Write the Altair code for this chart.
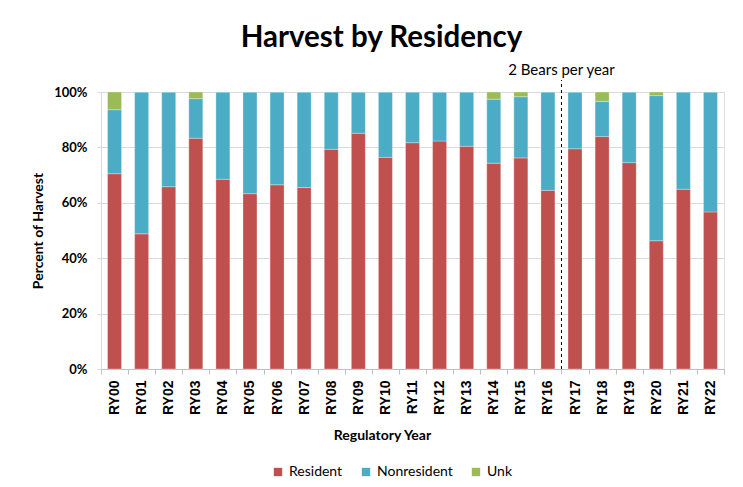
import altair as alt
import pandas as pd

years = ["RY00", "RY01", "RY02", "RY03", "RY04", "RY05", "RY06", "RY07", "RY08",
         "RY09", "RY10", "RY11", "RY12", "RY13", "RY14", "RY15", "RY16", "RY17",
         "RY18", "RY19", "RY20", "RY21", "RY22"]
resident = [70.5, 48.8, 65.8, 83.3, 68.5, 63.3, 66.5, 65.5, 79.3, 85.1, 76.4, 81.7,
            82.3, 80.4, 74.3, 76.2, 64.5, 79.5, 83.9, 74.5, 46.3, 64.9, 56.7]
nonresident = [23.1, 51.2, 34.2, 14.3, 31.5, 36.7, 33.5, 34.5, 20.7, 14.9, 23.6, 18.3,
               17.7, 19.6, 23.1, 22.1, 35.5, 20.5, 12.7, 25.5, 52.4, 35.1, 43.3]
unk = [6.4, 0, 0, 2.4, 0, 0, 0, 0, 0, 0, 0, 0,
       0, 0, 2.6, 1.7, 0, 0, 3.4, 0, 1.3, 0, 0]
series = ["Resident", "Nonresident", "Unk"]
colors = ["#C0504D", "#4BACC6", "#9BBB59"]
y_ticks = [0, 0.2, 0.4, 0.6, 0.8, 1.0]
marker_year = ["RY17"]
marker_label = ["2 Bears per year"]

rows = []
for i, yr in enumerate(years):
    for k, (name, vals) in enumerate(zip(series, [resident, nonresident, unk])):
        rows.append({"year": yr, "series": name, "order": k, "value": vals[i] / 100})
df = pd.DataFrame(rows)

mk = pd.DataFrame({"year": marker_year, "y0": [0.0], "y1": [1.043],
                   "ty": [1.08], "label": marker_label})

xscale = alt.Scale(domain=years, paddingInner=0, paddingOuter=0)

bars = alt.Chart(df).mark_bar(size=14, stroke="white", strokeWidth=0.5,
                              strokeOpacity=0.6).encode(
    x=alt.X("year:N", sort=years, scale=xscale,
            axis=alt.Axis(title="Regulatory Year", labelAngle=270, tickBand="extent",
                          grid=False, domainColor="#BFBFBF", tickColor="#BFBFBF",
                          tickSize=5, labelFont="Arial", labelFontWeight="bold",
                          labelFontSize=14, labelPadding=6, labelColor="black",
                          titleFont="Lato", titleFontWeight="bold", titleFontSize=14,
                          titlePadding=14, titleColor="black", titleX=281,
                          titleAlign="center")),
    y=alt.Y("value:Q", stack="zero", scale=alt.Scale(domain=[0, 1], nice=False),
            axis=alt.Axis(title="Percent of Harvest", format=".0%", values=y_ticks,
                          gridColor="#D9D9D9", domainColor="#D9D9D9", tickColor="#D9D9D9",
                          tickSize=4, labelPadding=10, labelFont="Lato",
                          labelFontWeight="bold", labelFontSize=13, labelColor="black",
                          titleFont="Lato", titleFontWeight="bold", titleFontSize=14,
                          titlePadding=8, titleColor="black")),
    color=alt.Color("series:N", scale=alt.Scale(domain=series, range=colors),
                    legend=alt.Legend(title=None, orient="none", direction="horizontal",
                                      legendX=170, legendY=373, symbolType="square",
                                      symbolSize=70, symbolStrokeWidth=0,
                                      labelFont="Lato", labelFontSize=14,
                                      labelColor="black", columnPadding=16,
                                      labelOffset=4)),
    order=alt.Order("order:Q"),
)

rule = alt.Chart(mk).mark_rule(color="black", strokeDash=[3, 3], strokeWidth=1).encode(
    x=alt.X("year:N", bandPosition=0, scale=xscale),
    y=alt.Y("y0:Q"),
    y2="y1:Q",
)

text = alt.Chart(mk).mark_text(font="Lato", fontSize=15, color="black",
                               baseline="middle", align="center").encode(
    x=alt.X("year:N", bandPosition=0, scale=xscale),
    y=alt.Y("ty:Q"),
    text="label:N",
)

chart = alt.layer(bars, rule, text).properties(
    width=623, height=277,
    autosize=alt.AutoSizeParams(type="none"),
    padding={"left": 93, "top": 84, "right": 11, "bottom": 110},
    title=alt.TitleParams("Harvest by Residency", font="Lato", fontSize=29.5,
                          fontWeight="bold", anchor="middle", dx=-31, offset=9,
                          color="black"),
).configure_view(stroke=None).configure(background="white")

chart.save("out.html", embed_options={"renderer": "svg", "actions": False})
